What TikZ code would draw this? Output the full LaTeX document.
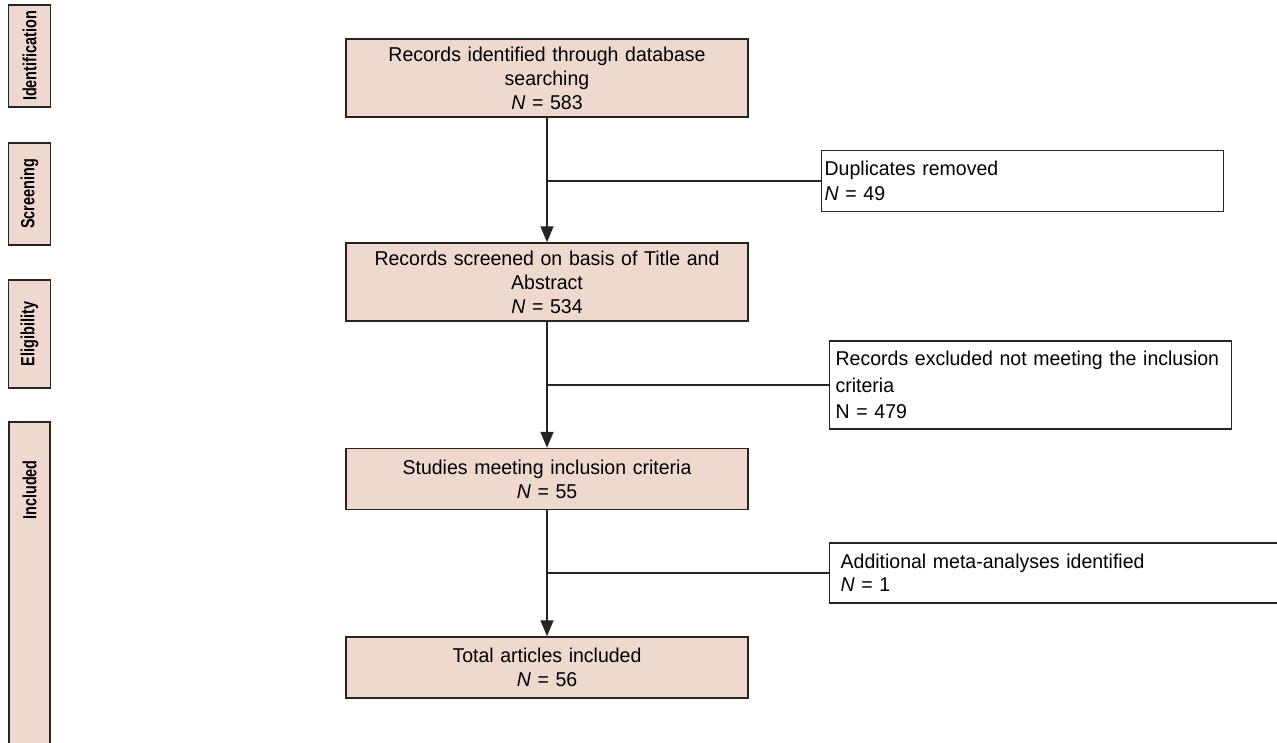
\documentclass[tikz,border=0pt]{standalone}
\usepackage{fontspec}
\setmainfont{Liberation Sans}[FakeStretch=0.975]
\newfontfamily\phasefont[FakeStretch=0.76]{Liberation Sans}
\usetikzlibrary{arrows.meta}
\hyphenpenalty=10000
\exhyphenpenalty=10000
\hbadness=10000
\hfuzz=20pt
\definecolor{boxfill}{RGB}{239,217,206}
\definecolor{edge}{RGB}{40,36,34}
\tikzset{
 mainbox/.style={draw=edge, line width=1.5pt, fill=boxfill, minimum width=402pt, text width=390pt, align=center, inner xsep=6pt, inner ysep=0pt, font=\fontsize{20pt}{24pt}\selectfont},
 sidebox/.style={draw=edge, line width=1.3pt, fill=white, anchor=west, align=left, inner ysep=0pt, font=\fontsize{20pt}{25pt}\selectfont},
 phase/.style={draw=edge, line width=1.5pt, fill=boxfill, rotate=90, inner sep=0pt, minimum height=42pt, font=\phasefont\bfseries\fontsize{19pt}{22pt}\selectfont},
 flow/.style={draw=edge, line width=1.5pt, -{Triangle[width=13pt,length=16pt]}},
 branch/.style={draw=edge, line width=1.5pt},
}
\begin{document}
\begin{tikzpicture}[x=1pt,y=-1pt]
\useasboundingbox (0,0) rectangle (1277,742);
% phase labels
\node[phase, minimum width=102pt] (pid) at (29.5,56) {Identification};
\node[phase, minimum width=102pt] (psc) at (29.5,194) {Screening};
\node[phase, minimum width=108pt] (pel) at (29.5,334) {Eligibility};
\path[draw=edge, line width=1.5pt, fill=boxfill] (9,422) rectangle (50,790);
\node[phase, draw=none, fill=none] (pin) at (29.5,490) {Included};
% main flow
\node[mainbox, minimum height=78pt] (b1) at (547,78) {Records identified through database\\searching\\\textit{N} = 583};
\node[mainbox, minimum height=78pt] (b2) at (547,282) {Records screened on basis of Title and\\Abstract\\\textit{N} = 534};
\node[mainbox, minimum height=61pt] (b3) at (547,479) {Studies meeting inclusion criteria\\\textit{N} = 55};
\node[mainbox, minimum height=61pt] (b4) at (547,667.5) {Total articles included\\\textit{N} = 56};
% side boxes
\node[sidebox, inner xsep=3pt, text width=396pt, minimum height=61pt] (dup) at (821,181) {Duplicates removed\\\textit{N} = 49};
\node[sidebox, inner xsep=6pt, text width=390pt, minimum height=88pt, font=\fontsize{20pt}{26.5pt}\selectfont] (exc) at (829,385) {\mbox{Records excluded not meeting the inclusion}\\criteria\\N = 479};
\node[sidebox, inner xsep=11pt, text width=460pt, minimum height=60pt, font=\fontsize{20pt}{23pt}\selectfont] (add) at (829,573) {Additional meta-analyses identified\\\textit{N} = 1};
% connectors
\draw[flow] (b1) -- (b2);
\draw[flow] (b2) -- (b3);
\draw[flow] (b3) -- (b4);
\draw[branch] (b1.south |- dup.west) -- (dup.west);
\draw[branch] (b2.south |- exc.west) -- (exc.west);
\draw[branch] (b3.south |- add.west) -- (add.west);
\end{tikzpicture}
\end{document}
